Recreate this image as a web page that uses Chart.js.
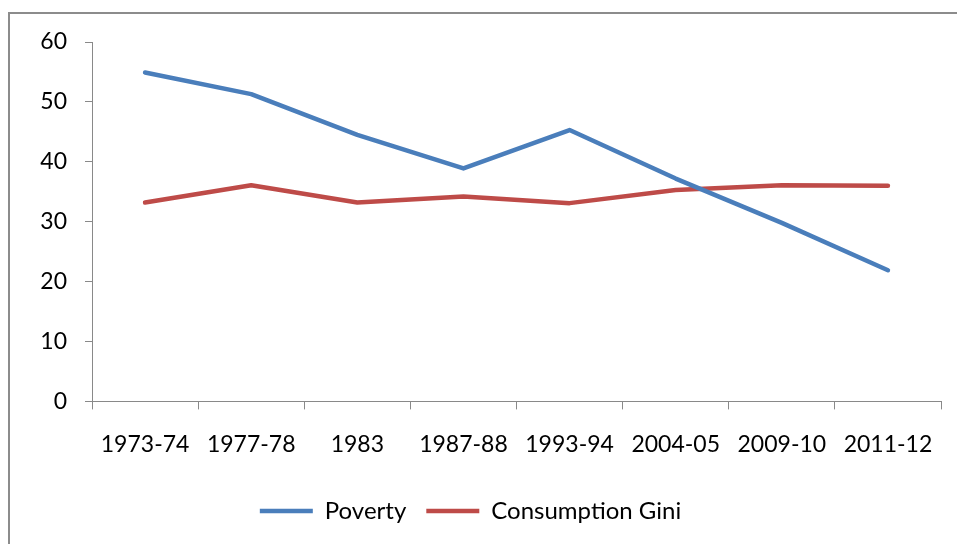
<!DOCTYPE html>
<html>
<head>
<meta charset="utf-8">
<script src="https://cdn.jsdelivr.net/npm/chart.js@4/dist/chart.umd.min.js"></script>
<style>
html,body{margin:0;padding:0;background:#fff;}
#wrap{width:957px;height:544px;position:relative;}
</style>
</head>
<body>
<div id="wrap"><canvas id="c" width="957" height="544"></canvas></div>
<script>
const categories = ["1973-74","1977-78","1983","1987-88","1993-94","2004-05","2009-10","2011-12"];
const poverty = [54.9, 51.3, 44.5, 38.9, 45.3, 37.2, 29.8, 21.9];
const gini = [33.2, 36.1, 33.2, 34.2, 33.1, 35.3, 36.1, 36.0];
const yTicks = [0, 10, 20, 30, 40, 50, 60];

const FONT = "Lato";
const axisGray = "#898989";

const framePlugin = {
  id: 'frame',
  beforeDraw(chart) {
    const ctx = chart.ctx;
    ctx.save();
    ctx.fillStyle = '#fff';
    ctx.fillRect(0, 0, chart.width, chart.height);
    ctx.strokeStyle = '#8c8c8c';
    ctx.lineWidth = 2;
    ctx.strokeRect(9, 13, 2000, 2000);
    ctx.restore();
  }
};

new Chart(document.getElementById('c'), {
  type: 'line',
  data: {
    labels: categories,
    datasets: [
      { label: 'Poverty', data: poverty, borderColor: '#4A7EBB', backgroundColor: '#4A7EBB',
        borderWidth: 4.5, pointRadius: 0, tension: 0, borderCapStyle: 'round', borderJoinStyle: 'round' },
      { label: 'Consumption Gini', data: gini, borderColor: '#BE4B48', backgroundColor: '#BE4B48',
        borderWidth: 4.5, pointRadius: 0, tension: 0, borderCapStyle: 'round', borderJoinStyle: 'round' }
    ]
  },
  plugins: [framePlugin],
  options: {
    responsive: false,
    animation: false,
    layout: { padding: { left: 0, right: 16, top: 42, bottom: 11 } },
    plugins: {
      tooltip: { enabled: false },
      legend: {
        position: 'bottom',
        labels: {
          usePointStyle: true,
          pointStyle: 'line',
          pointStyleWidth: 53,
          color: '#000',
          padding: 20,
          font: { family: FONT, size: 24 }
        }
      }
    },
    scales: {
      x: {
        offset: true,
        grid: { offset: true, drawOnChartArea: false, color: axisGray, tickLength: 8, lineWidth: 1 },
        border: { color: axisGray, width: 1 },
        ticks: { color: '#000', padding: 21, maxRotation: 0, autoSkip: false, font: { family: FONT, size: 23 } }
      },
      y: {
        min: 0, max: 60,
        afterBuildTicks(scale) { scale.ticks = yTicks.map(v => ({ value: v })); },
        afterFit(scale) { scale.width = 92; },
        grid: { drawOnChartArea: false, color: axisGray, tickLength: 7, lineWidth: 1 },
        border: { color: axisGray, width: 1 },
        ticks: { color: '#000', padding: 18, font: { family: FONT, size: 23 } }
      }
    }
  }
});
</script>
</body>
</html>
